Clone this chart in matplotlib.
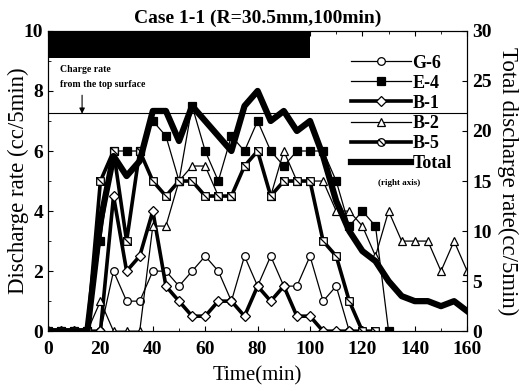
import numpy as np
import matplotlib
matplotlib.use('Agg')
import matplotlib.pyplot as plt
from matplotlib.lines import Line2D
from matplotlib.path import Path

# data (cc/5min), sampled every 5 min
time = np.arange(0, 165, 5)
g6 = [0, 0, 0, 0, 0, 2, 1, 1, 2, 2, 1.5, 2, 2.5, 2, 1, 2.5, 1.5, 2.5, 1.5, 1.5, 2.5, 1, 1.5, 0, 0]
e4 = [0, 0, 0, 0, 3, 6, 6, 6, 7, 6.5, 5, 7.5, 6, 5, 6.5, 6, 7, 6, 5.5, 6, 6, 6, 5, 3.5, 4, 3.5, 0]
b1 = [0, 0, 0, 0, 0, 4.5, 2, 2.5, 4, 1.5, 1, 0.5, 0.5, 1, 1, 0.5, 1.5, 1, 1.5, 0.5, 0.5, 0, 0, 0, 0]
b2 = [0, 0, 0, 0, 1, 0, 0, 0, 3.5, 3.5, 5, 5.5, 5.5, 4.5, 4.5, 5.5, 6, 4.5, 6, 5, 5, 5, 4, 4, 3.5,
      2.5, 4, 3, 3, 3, 2, 3, 2]
b5 = [0, 0, 0, 0, 5, 6, 3, 6, 5, 4.5, 5, 5, 4.5, 4.5, 4.5, 5.5, 6, 4.5, 5, 5, 5, 3, 2.5, 1, 0, 0]
total = [0, 0, 0, 0, 11, 17.5, 15.5, 17, 22, 22, 19, 22.5, 21, 19.5, 18, 22.5, 24, 21, 22, 20, 21,
         17.5, 13, 10, 8, 7, 5, 3.5, 3, 3, 2.5, 3, 2]

charge_period = (0, 100)
charge_rate = 7.25

plt.rcParams["font.family"] = "Liberation Serif"
plt.rcParams["font.weight"] = "bold"

# circle / square with a back slash
circ = Path.unit_circle()
slash_circle = Path(np.vstack([circ.vertices, [[-0.72, 0.72], [0.72, -0.72]]]),
                    np.concatenate([circ.codes, [Path.MOVETO, Path.LINETO]]))
sq = np.array([[-1, -1], [1, -1], [1, 1], [-1, 1], [-1, -1]])
slash_square = Path(np.vstack([sq, [[-1, 1], [1, -1]]]),
                    [Path.MOVETO] + [Path.LINETO] * 3 + [Path.CLOSEPOLY, Path.MOVETO, Path.LINETO])

fig = plt.figure(figsize=(5.22, 3.91), dpi=100)
ax = fig.add_axes([0.092, 0.153, 0.803, 0.768])
ax2 = ax.twinx()

ax.fill_between(charge_period, 9.1, 10, color='black', lw=0)
ax.axhline(charge_rate, color='black', lw=0.8)
ax.annotate('', xy=(13, charge_rate - 0.1), xytext=(13, 7.95),
            arrowprops=dict(arrowstyle='-|>', color='black', lw=0.8, mutation_scale=8))
ax.text(4.5, 8.7, 'Charge rate', fontsize=7, va='center')
ax.text(4.5, 8.2, 'from the top surface', fontsize=7, va='center')

mk = dict(markersize=5.5, markeredgecolor='black', markeredgewidth=0.9, color='black')
ax.plot(time[:len(g6)], g6, lw=0.9, marker='o', markerfacecolor='white', **mk)
ax.plot(time[:len(e4)], e4, lw=0.9, marker='s', markerfacecolor='black', **mk)
ax.plot(time[:len(b1)], b1, lw=2.6, marker='D', markerfacecolor='white', **mk)
ax.plot(time[:len(b2)], b2, lw=0.9, marker='^', markerfacecolor='white', **mk)
ax.plot(time[:len(b5)], b5, lw=2.6, marker=slash_square, markerfacecolor='white', **mk)
ax2.plot(time, total, lw=4.5, color='black')

ax.set_xlim(0, 160)
ax.set_ylim(0, 10)
ax2.set_ylim(0, 30)
ax.set_xticks(range(0, 161, 20))
ax.set_xticks(range(0, 161, 10), minor=True)
ax.set_yticks(range(0, 11, 2))
ax.set_yticks(range(0, 11, 1), minor=True)
ax2.set_yticks(range(0, 31, 5))
ax.tick_params(which='both', direction='in', top=True, labelsize=14)
ax.tick_params(axis='x', pad=7)
ax.tick_params(which='minor', length=2)
ax2.tick_params(direction='in', labelsize=14)

ax.set_xlabel('Time(min)', fontsize=15, labelpad=6)
ax.set_ylabel('Discharge rate (cc/5min)', fontsize=16.5, labelpad=-4)
ax2.set_ylabel('Total discharge rate(cc/5min)', fontsize=16.5, rotation=270, labelpad=19)
ax.set_title('Case 1-1 (R=30.5mm,100min)', fontsize=14, fontweight='bold', pad=6)

handles = [
    Line2D([], [], lw=0.9, marker='o', markerfacecolor='white', **mk),
    Line2D([], [], lw=0.9, marker='s', markerfacecolor='black', **mk),
    Line2D([], [], lw=2.6, marker='D', markerfacecolor='white', **mk),
    Line2D([], [], lw=0.9, marker='^', markerfacecolor='white', **mk),
    Line2D([], [], lw=2.6, marker=slash_circle, markerfacecolor='white', **mk),
    Line2D([], [], lw=4.5, color='black'),
]
labels = ['G-6', 'E-4', 'B-1', 'B-2', 'B-5', 'Total']
ax2.legend(handles, labels, loc='upper right', bbox_to_anchor=(0.98, 0.945), frameon=False,
           fontsize=13, handlelength=3.3, handletextpad=0.1, labelspacing=0.17,
           borderaxespad=0, markerfirst=True, numpoints=1)
fig.text(0.765, 0.532, '(right axis)', fontsize=6.5, ha='center', va='center')

fig.savefig('out.png', dpi=100)
